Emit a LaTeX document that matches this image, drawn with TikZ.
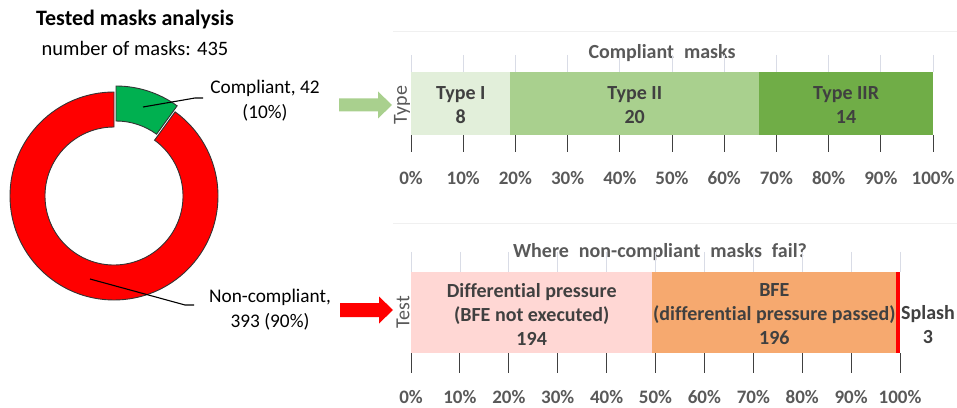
\documentclass[tikz,border=0pt]{standalone}
\usepackage{fontspec}
\setmainfont[Ligatures=NoCommon]{Carlito}
\newfontfamily\titlefont[Ligatures=NoCommon, WordSpace=2.2]{Carlito}
\definecolor{txtgray}{HTML}{595959}
\definecolor{lbl}{HTML}{404040}
\definecolor{gridc}{HTML}{D9DCE6}
\definecolor{tI}{HTML}{E2EFDA}
\definecolor{tII}{HTML}{A9D08E}
\definecolor{tIIR}{HTML}{70AD47}
\definecolor{pinkc}{HTML}{FFD7D4}
\definecolor{orangec}{HTML}{F6A96F}
\definecolor{redc}{HTML}{FF0000}
\definecolor{greenc}{HTML}{00B050}
\tikzset{
  seg/.style={draw=black!80, line width=0.9pt},
  leader/.style={draw=black, line width=1.1pt},
  pielbl/.style={font=\fontsize{19.3}{25}\selectfont, align=center, inner sep=0pt},
  ctitle/.style={font=\titlefont\fontsize{20}{24}\selectfont\bfseries, text=txtgray, inner sep=0pt},
  barlbl/.style={font=\fontsize{20}{24}\selectfont\bfseries, text=lbl, align=center, inner sep=0pt},
  axlbl/.style={font=\fontsize{19}{22}\selectfont\bfseries, text=txtgray, inner sep=0pt},
  axname/.style={font=\fontsize{20}{22}\selectfont, text=txtgray, rotate=90, inner sep=0pt},
  gridl/.style={draw=gridc, line width=0.8pt},
  tick/.style={draw=black!75, line width=0.9pt},
  topline/.style={draw=black!6, line width=0.8pt}
}
\begin{document}
\begin{tikzpicture}[x=1pt,y=1pt]
\useasboundingbox (0,0) rectangle (957,407);
% ---------- left: donut ----------
\node[font=\fontsize{22}{26}\selectfont\bfseries, inner sep=0pt] (title) at (135,387) {Tested masks analysis};
\node[font=\fontsize{20.5}{24}\selectfont, inner sep=0pt] (sub) at (135,359) {number of masks: 435};
\coordinate (c) at (114,211);
\fill[redc] ([shift={(90:104)}]c) arc[start angle=90, end angle=414, radius=104]
  -- ([shift={(414:69)}]c) arc[start angle=414, end angle=90, radius=69] -- cycle;
\draw[seg] ([shift={(90:104)}]c) arc[start angle=90, end angle=414, radius=104]
  -- ([shift={(414:69)}]c) arc[start angle=414, end angle=90, radius=69] -- cycle;
\coordinate (cg) at (116,217);
\draw[seg, fill=greenc] ([shift={(54:104)}]cg) arc[start angle=54, end angle=90, radius=104]
  -- ([shift={(90:69)}]cg) arc[start angle=90, end angle=54, radius=69] -- cycle;
% labels
\node[pielbl] (comp) at (265,306.5) {Compliant, 42\\(10\%)};
\node[pielbl] (noncomp) at (270,97.5) {Non-compliant,\\393 (90\%)};
\coordinate (g1) at (143,300);
\coordinate (g2) at (195,309);
\coordinate (g3) at (203,309);
\draw[leader] (g1) -- (g2) -- (g3);
\coordinate (r1) at (90,128);
\coordinate (r2) at (185,102);
\coordinate (r3) at (194,102);
\draw[leader] (r1) -- (r2) -- (r3);
% ---------- top chart ----------
\draw[topline] (393,376) -- (957,376);
\node[ctitle] (t1) at (662,354) {Compliant masks};
\foreach \i in {0,...,10} {
  \draw[gridl] ({411+52.2*\i},352) -- ({411+52.2*\i},335);
  \draw[tick] ({411+52.2*\i},272) -- ({411+52.2*\i},255);
  \pgfmathtruncatemacro{\p}{10*\i}
  \node[axlbl] at ({411+52.2*\i},229) {\p\%};
}
\pgfmathsetmacro{\ua}{411+522*(8/42)}
\pgfmathsetmacro{\ub}{411+522*(28/42)}
\fill[tI]   (411,272) rectangle (\ua,335);
\fill[tII]  (\ua,272) rectangle (\ub,335);
\fill[tIIR] (\ub,272) rectangle (933,335);
\node[barlbl] (b1) at ({(411+\ua)/2},302) {Type I\\8};
\node[barlbl] (b2) at ({(\ua+\ub)/2},302) {Type II\\20};
\node[barlbl] (b3) at ({(\ub+933)/2},302) {Type IIR\\14};
\node[axname] (ax1) at (402,302) {Type};
\fill[tII] (339,295.5) -- (378,295.5) -- (378,288.5) -- (392,302) -- (378,315.5) -- (378,308.5) -- (339,308.5) -- cycle;
% ---------- bottom chart ----------
\draw[topline] (393,184) -- (957,184);
\node[ctitle] (t2) at (660,155) {Where non-compliant masks fail?};
\foreach \i in {0,...,10} {
  \draw[gridl] ({411+48.9*\i},155) -- ({411+48.9*\i},135);
  \draw[tick] ({411+48.9*\i},54) -- ({411+48.9*\i},34);
  \pgfmathtruncatemacro{\p}{10*\i}
  \node[axlbl] at ({411+48.9*\i},10) {\p\%};
}
\pgfmathsetmacro{\va}{411+489*(194/393)}
\pgfmathsetmacro{\vb}{411+489*(390/393)}
\fill[pinkc]   (411,54) rectangle (\va,135);
\fill[orangec] (\va,54) rectangle (\vb,135);
\fill[redc]    (\vb,54) rectangle (900,135);
\node[barlbl] (d1) at ({(411+\va)/2},93) {Differential pressure\\(BFE not executed)\\194};
\node[barlbl] (d2) at ({(\va+\vb)/2},93) {BFE\\(differential pressure passed)\\196};
\node[barlbl] (d3) at (928,82) {Splash\\3};
\node[axname] (ax2) at (403,95) {Test};
\fill[redc] (340,90) -- (379,90) -- (379,83.5) -- (393,97) -- (379,110.5) -- (379,104) -- (340,104) -- cycle;
\end{tikzpicture}
\end{document}
